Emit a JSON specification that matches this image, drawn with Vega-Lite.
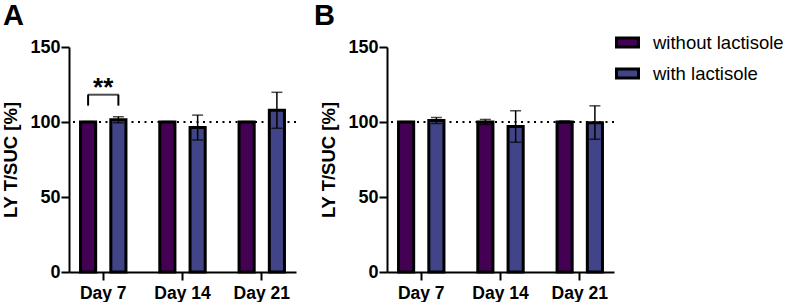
{
  "$schema": "https://vega.github.io/schema/vega-lite/v6.json",
  "padding": {"left": 1, "top": 2, "right": 0, "bottom": 0},
  "config": {
    "font": "Liberation Sans",
    "view": {"stroke": null},
    "axis": {
      "domainColor": "black",
      "domainWidth": 2,
      "tickColor": "black",
      "tickWidth": 2,
      "tickSize": 8,
      "labelColor": "black",
      "labelFont": "Liberation Sans",
      "labelFontWeight": "bold",
      "titleColor": "black",
      "titleFont": "Liberation Sans",
      "titleFontWeight": "bold",
      "grid": false
    },
    "legend": {
      "title": null,
      "orient": "none",
      "legendX": 546,
      "legendY": -17,
      "symbolType": "M-1,-0.4H1V0.4H-1Z",
      "symbolSize": 484,
      "symbolStrokeColor": "black",
      "symbolStrokeWidth": 3,
      "symbolOpacity": 1,
      "labelFont": "Liberation Sans",
      "labelFontSize": 18.5,
      "labelColor": "black",
      "labelOffset": 13,
      "rowPadding": 8,
      "labelLimit": 200
    },
    "title": {"color": "black", "font": "Liberation Sans", "fontWeight": "bold", "fontSize": 29, "anchor": "start", "frame": "group"}
  },
  "datasets": {
    "panelA": [
      {"day": "Day 7", "group": "without lactisole", "mean": 100, "lo": 99.7, "hi": 100.3},
      {"day": "Day 7", "group": "with lactisole", "mean": 101.5, "lo": 99.5, "hi": 103.5},
      {"day": "Day 14", "group": "without lactisole", "mean": 100, "lo": 99.7, "hi": 100.3},
      {"day": "Day 14", "group": "with lactisole", "mean": 96.3, "lo": 88.0, "hi": 104.6},
      {"day": "Day 21", "group": "without lactisole", "mean": 100, "lo": 99.7, "hi": 100.3},
      {"day": "Day 21", "group": "with lactisole", "mean": 107.8, "lo": 95.8, "hi": 119.8}
    ],
    "panelB": [
      {"day": "Day 7", "group": "without lactisole", "mean": 100, "lo": 99.7, "hi": 100.3},
      {"day": "Day 7", "group": "with lactisole", "mean": 101, "lo": 99, "hi": 103},
      {"day": "Day 14", "group": "without lactisole", "mean": 100, "lo": 98.3, "hi": 101.7},
      {"day": "Day 14", "group": "with lactisole", "mean": 97, "lo": 86.5, "hi": 107.5},
      {"day": "Day 21", "group": "without lactisole", "mean": 100, "lo": 99.3, "hi": 100.7},
      {"day": "Day 21", "group": "with lactisole", "mean": 99.5, "lo": 88.5, "hi": 110.8}
    ],
    "baseline": [{"y": 100}],
    "bracketLegs": [
      {"day": "Day 7", "group": "without lactisole", "y0": 110.9, "y1": 118.2},
      {"day": "Day 7", "group": "with lactisole", "y0": 110.9, "y1": 118.2}
    ],
    "bracketTop": [
      {"day": "Day 7", "y": 118.2, "label": "**"}
    ]
  },
  "hconcat": [
    {
      "title": {"text": "A", "dx": -66, "offset": 7},
      "width": 227,
      "height": 225,
      "layer": [
        {
          "data": {"name": "baseline"},
          "mark": {"type": "rule", "strokeDash": [2, 4.5], "strokeWidth": 2, "color": "black"},
          "encoding": {"y": {"field": "y", "type": "quantitative"}}
        },
        {
          "data": {"name": "panelA"},
          "mark": {"type": "bar", "stroke": "black", "strokeWidth": 3},
          "encoding": {
            "x": {"field": "day", "type": "nominal", "sort": ["Day 7", "Day 14", "Day 21"],
                  "scale": {"paddingInner": 0.236, "paddingOuter": 0.05},
                  "axis": {"title": null, "labelAngle": 0, "labelFontSize": 17.5, "labelPadding": 4}},
            "xOffset": {"field": "group", "type": "nominal", "sort": ["without lactisole", "with lactisole"],
                        "scale": {"paddingInner": 0.5, "paddingOuter": 0.25}},
            "y": {"field": "mean", "type": "quantitative",
                  "scale": {"domain": [0, 150], "nice": false},
                  "axis": {"title": "LY T/SUC [%]", "values": [0, 50, 100, 150], "labelFontSize": 18, "titleFontSize": 18.5, "labelPadding": 1, "titlePadding": 9}},
            "color": {"field": "group", "type": "nominal", "sort": ["without lactisole", "with lactisole"],
                      "scale": {"domain": ["without lactisole", "with lactisole"], "range": ["#440154", "#414487"]}}
          }
        },
        {
          "data": {"name": "panelA"},
          "mark": {"type": "rule", "color": "black", "strokeWidth": 1.5},
          "encoding": {
            "x": {"field": "day", "type": "nominal", "sort": ["Day 7", "Day 14", "Day 21"]},
            "xOffset": {"field": "group", "type": "nominal", "sort": ["without lactisole", "with lactisole"]},
            "y": {"field": "lo", "type": "quantitative"},
            "y2": {"field": "hi"}
          }
        },
        {
          "data": {"name": "panelA"},
          "mark": {"type": "tick", "color": "black", "thickness": 1.5, "size": 11},
          "encoding": {
            "x": {"field": "day", "type": "nominal", "sort": ["Day 7", "Day 14", "Day 21"]},
            "xOffset": {"field": "group", "type": "nominal", "sort": ["without lactisole", "with lactisole"]},
            "y": {"field": "hi", "type": "quantitative"}
          }
        },
        {
          "data": {"name": "panelA"},
          "mark": {"type": "tick", "color": "black", "thickness": 1.5, "size": 11},
          "encoding": {
            "x": {"field": "day", "type": "nominal", "sort": ["Day 7", "Day 14", "Day 21"]},
            "xOffset": {"field": "group", "type": "nominal", "sort": ["without lactisole", "with lactisole"]},
            "y": {"field": "lo", "type": "quantitative"}
          }
        },
        {
          "data": {"name": "bracketLegs"},
          "mark": {"type": "rule", "color": "black", "strokeWidth": 2},
          "encoding": {
            "x": {"field": "day", "type": "nominal", "sort": ["Day 7", "Day 14", "Day 21"]},
            "xOffset": {"field": "group", "type": "nominal", "sort": ["without lactisole", "with lactisole"]},
            "y": {"field": "y0", "type": "quantitative"},
            "y2": {"field": "y1"}
          }
        },
        {
          "data": {"name": "bracketTop"},
          "mark": {"type": "tick", "color": "black", "thickness": 2, "size": 31},
          "encoding": {
            "x": {"field": "day", "type": "nominal", "sort": ["Day 7", "Day 14", "Day 21"]},
            "y": {"field": "y", "type": "quantitative"}
          }
        },
        {
          "data": {"name": "bracketTop"},
          "mark": {"type": "text", "color": "black", "fontSize": 26, "fontWeight": "bold", "baseline": "alphabetic", "align": "center", "dy": 1},
          "encoding": {
            "x": {"field": "day", "type": "nominal", "sort": ["Day 7", "Day 14", "Day 21"]},
            "y": {"field": "y", "type": "quantitative"},
            "text": {"field": "label"}
          }
        }
      ]
    },
    {
      "title": {"text": "B", "dx": -73, "offset": 7},
      "width": 227,
      "height": 225,
      "layer": [
        {
          "data": {"name": "baseline"},
          "mark": {"type": "rule", "strokeDash": [2, 4.5], "strokeWidth": 2, "color": "black"},
          "encoding": {"y": {"field": "y", "type": "quantitative"}}
        },
        {
          "data": {"name": "panelB"},
          "mark": {"type": "bar", "stroke": "black", "strokeWidth": 3},
          "encoding": {
            "x": {"field": "day", "type": "nominal", "sort": ["Day 7", "Day 14", "Day 21"],
                  "scale": {"paddingInner": 0.236, "paddingOuter": 0.05},
                  "axis": {"title": null, "labelAngle": 0, "labelFontSize": 17.5, "labelPadding": 4}},
            "xOffset": {"field": "group", "type": "nominal", "sort": ["without lactisole", "with lactisole"],
                        "scale": {"paddingInner": 0.5, "paddingOuter": 0.25}},
            "y": {"field": "mean", "type": "quantitative",
                  "scale": {"domain": [0, 150], "nice": false},
                  "axis": {"title": "LY T/SUC [%]", "values": [0, 50, 100, 150], "labelFontSize": 18, "titleFontSize": 18.5, "labelPadding": 1, "titlePadding": 9}},
            "color": {"field": "group", "type": "nominal", "sort": ["without lactisole", "with lactisole"],
                      "scale": {"domain": ["without lactisole", "with lactisole"], "range": ["#440154", "#414487"]}}
          }
        },
        {
          "data": {"name": "panelB"},
          "mark": {"type": "rule", "color": "black", "strokeWidth": 1.5},
          "encoding": {
            "x": {"field": "day", "type": "nominal", "sort": ["Day 7", "Day 14", "Day 21"]},
            "xOffset": {"field": "group", "type": "nominal", "sort": ["without lactisole", "with lactisole"]},
            "y": {"field": "lo", "type": "quantitative"},
            "y2": {"field": "hi"}
          }
        },
        {
          "data": {"name": "panelB"},
          "mark": {"type": "tick", "color": "black", "thickness": 1.5, "size": 11},
          "encoding": {
            "x": {"field": "day", "type": "nominal", "sort": ["Day 7", "Day 14", "Day 21"]},
            "xOffset": {"field": "group", "type": "nominal", "sort": ["without lactisole", "with lactisole"]},
            "y": {"field": "hi", "type": "quantitative"}
          }
        },
        {
          "data": {"name": "panelB"},
          "mark": {"type": "tick", "color": "black", "thickness": 1.5, "size": 11},
          "encoding": {
            "x": {"field": "day", "type": "nominal", "sort": ["Day 7", "Day 14", "Day 21"]},
            "xOffset": {"field": "group", "type": "nominal", "sort": ["without lactisole", "with lactisole"]},
            "y": {"field": "lo", "type": "quantitative"}
          }
        }
      ]
    }
  ],
  "spacing": 17
}
